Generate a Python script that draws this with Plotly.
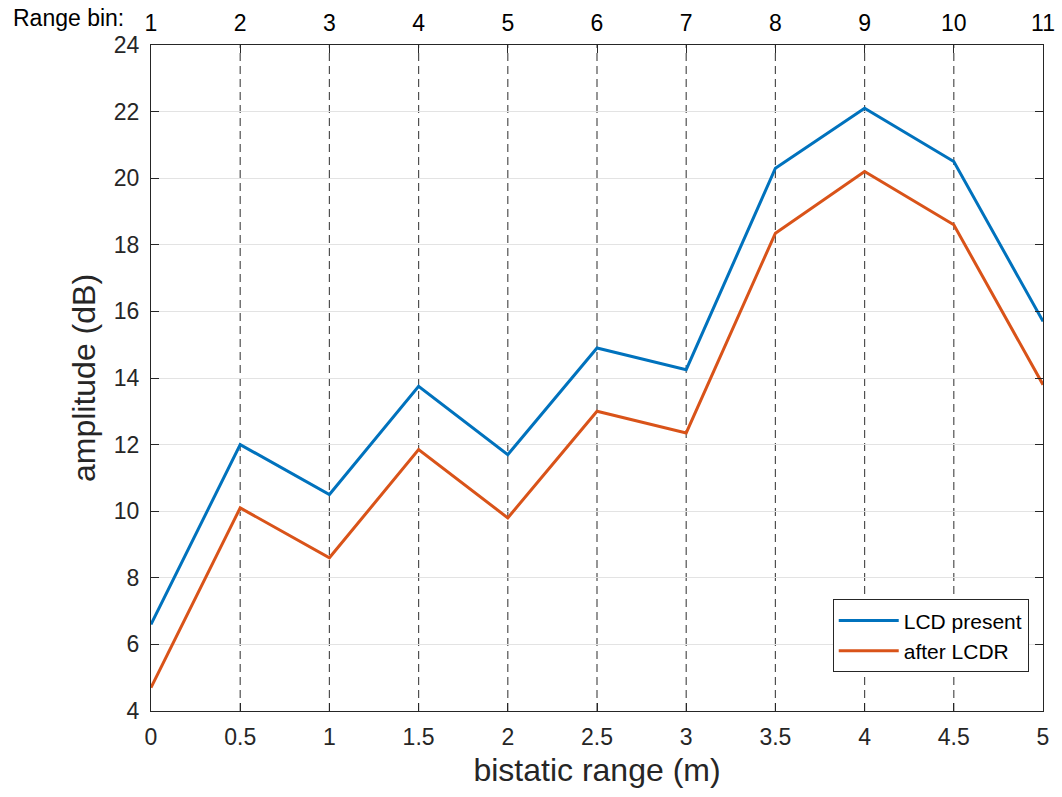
import plotly.graph_objects as go

bistatic_range = [0, 0.5, 1, 1.5, 2, 2.5, 3, 3.5, 4, 4.5, 5]
range_bins = ["1", "2", "3", "4", "5", "6", "7", "8", "9", "10", "11"]
lcd_present = [6.6, 12.0, 10.5, 13.75, 11.7, 14.9, 14.25, 20.3, 22.1, 20.5, 15.7]
after_lcdr = [4.7, 10.1, 8.6, 11.85, 9.8, 13.0, 12.35, 18.35, 20.2, 18.6, 13.8]
y_ticks = [4, 6, 8, 10, 12, 14, 16, 18, 20, 22, 24]
dashed_positions = [0.5, 1, 1.5, 2, 2.5, 3, 3.5, 4, 4.5]

FONT = "Liberation Sans, Arial, sans-serif"
TXT = "#262626"

fig = go.Figure()
fig.add_trace(go.Scatter(x=bistatic_range, y=lcd_present, mode="lines", name="LCD present",
                         line=dict(color="#0072BD", width=3)))
fig.add_trace(go.Scatter(x=bistatic_range, y=after_lcdr, mode="lines", name="after LCDR",
                         line=dict(color="#D95319", width=3)))

for xp in dashed_positions:
    fig.add_shape(type="line", x0=xp, x1=xp, y0=0, y1=1, xref="x", yref="paper",
                  line=dict(color="#505050", width=1.2, dash="8px,5px"), layer="below")

fig.add_annotation(text="Range bin:", xref="paper", yref="paper", x=-0.028, y=1.0,
                   yshift=27, xanchor="right", yanchor="middle", showarrow=False,
                   font=dict(family=FONT, size=23, color="black"))

fig.update_layout(
    width=1062, height=797,
    margin=dict(l=151, r=19, t=45, b=86, autoexpand=False),
    paper_bgcolor="white", plot_bgcolor="white",
    font=dict(family=FONT, color=TXT),
    showlegend=True,
    legend=dict(x=0.984, y=0.058, xanchor="right", yanchor="bottom",
                bgcolor="white", bordercolor="#262626", borderwidth=1,
                font=dict(family=FONT, size=21, color="black"),
                tracegroupgap=0, itemwidth=60),
    xaxis=dict(range=[0, 5], tickvals=bistatic_range, automargin=False,
               ticktext=["0", "0.5", "1", "1.5", "2", "2.5", "3", "3.5", "4", "4.5", "5"],
               showgrid=False, zeroline=False, showline=True, linecolor="#262626", linewidth=1,
               mirror="ticks", ticks="inside", ticklen=8, tickcolor="#262626",
               tickfont=dict(family=FONT, size=23, color=TXT), ticklabelstandoff=5,
               title=dict(text="bistatic range (m)", font=dict(family=FONT, size=32, color=TXT),
                          standoff=10)),
    xaxis2=dict(range=[0, 5], overlaying="x", side="top", tickvals=bistatic_range,
                ticktext=range_bins, showgrid=False, zeroline=False, showline=False,
                ticks="", ticklabelstandoff=8, automargin=False,
                tickfont=dict(family=FONT, size=23, color="black")),
    yaxis=dict(range=[4, 24], tickvals=y_ticks, showgrid=True, gridcolor="#e3e3e3", gridwidth=1,
               zeroline=False, showline=True, linecolor="#262626", linewidth=1, automargin=False,
               mirror="ticks", ticks="inside", ticklen=8, tickcolor="#262626",
               tickfont=dict(family=FONT, size=23, color=TXT), ticklabelstandoff=6,
               title=dict(text="amplitude (dB)", font=dict(family=FONT, size=32, color=TXT),
                          standoff=8)),
)

fig.add_trace(go.Scatter(x=bistatic_range, y=lcd_present, xaxis="x2", mode="lines",
                         line=dict(width=0), showlegend=False, hoverinfo="skip", opacity=0))

fig.write_html("out.html")
